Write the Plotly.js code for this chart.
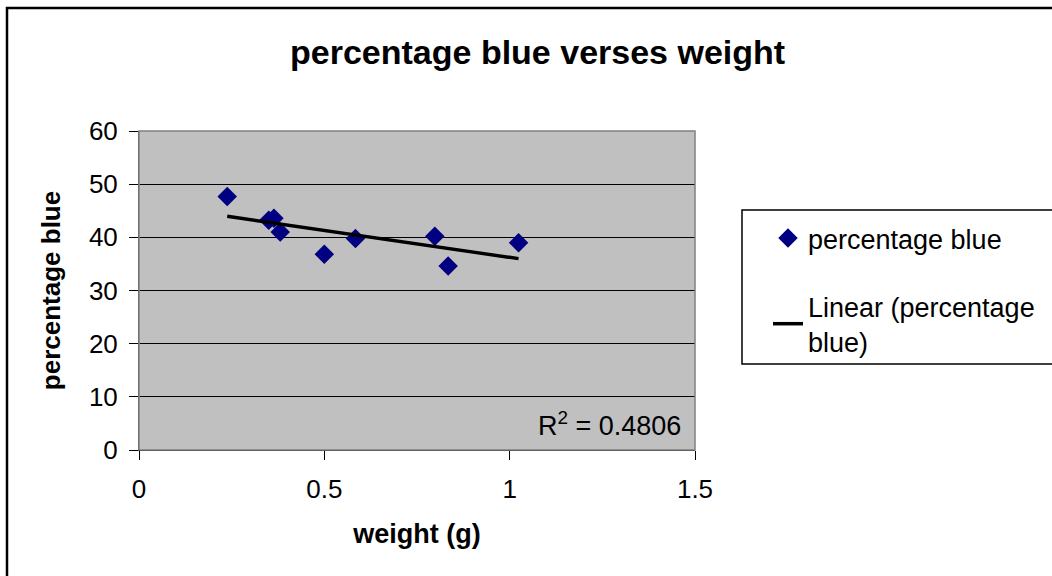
<!DOCTYPE html>
<html>
<head>
<meta charset="utf-8">
<script src="https://cdn.plot.ly/plotly-3.0.1.min.js"></script>
<style>
html,body{margin:0;padding:0;background:#fff;}
#chart{width:1052px;height:576px;}
</style>
</head>
<body>
<div id="chart"></div>
<script>
// ---- data ----
const weight = [0.238, 0.350, 0.364, 0.381, 0.500, 0.584, 0.798, 0.834, 1.024];
const percentBlue = [47.7, 43.2, 43.6, 41.0, 36.8, 39.8, 40.2, 34.6, 39.0];
const seriesName = "percentage blue";
const trendName = "Linear (percentage<br>blue)";
const rSquaredText = "R<sup>2</sup> = 0.4806";
const chartTitle = "percentage blue verses weight";
const xTitle = "weight (g)";
const yTitle = "percentage blue";
const xTicks = [0, 0.5, 1, 1.5];
const xTickLabels = ["0", "0.5", "1", "1.5"];
const yTicks = [0, 10, 20, 30, 40, 50, 60];

// least-squares linear trendline over the data range
const n = weight.length;
const mx = weight.reduce((a, b) => a + b, 0) / n;
const my = percentBlue.reduce((a, b) => a + b, 0) / n;
let sxy = 0, sxx = 0;
for (let i = 0; i < n; i++) { sxy += (weight[i] - mx) * (percentBlue[i] - my); sxx += (weight[i] - mx) ** 2; }
const slope = sxy / sxx, icept = my - slope * mx;
const xmin = Math.min(...weight), xmax = Math.max(...weight);
const trendX = [xmin, xmax];
const trendY = trendX.map(x => icept + slope * x);

const FONT = '"Liberation Sans", Arial, sans-serif';

const traces = [
  {
    x: weight, y: percentBlue, type: 'scatter', mode: 'markers', name: seriesName,
    legendgroup: 'a',
    marker: {symbol: 'diamond', size: 15, color: '#000080', line: {width: 0}}
  },
  {
    x: trendX, y: trendY, type: 'scatter', mode: 'lines', name: trendName,
    legendgroup: 'b',
    line: {color: '#000000', width: 3.5}
  }
];

const L = 139, R = 695, T = 131, B = 450, W = 1052, H = 576;
const px2x = p => (p - L) / (R - L);
const px2y = p => (B - p) / (B - T);

const layout = {
  width: W, height: H,
  paper_bgcolor: '#ffffff',
  plot_bgcolor: '#c0c0c0',
  margin: {l: L, r: W - R, t: T, b: H - B, pad: 0},
  font: {family: FONT, color: '#000', size: 26},
  title: {
    text: '<b>' + chartTitle + '</b>',
    font: {family: FONT, size: 34, color: '#000'},
    x: 0.511, xanchor: 'center', xref: 'container',
    y: 1 - 52 / H, yanchor: 'middle', yref: 'container'
  },
  xaxis: {
    range: [0, 1.5], tickvals: xTicks, ticktext: xTickLabels,
    showgrid: false, zeroline: false,
    showline: true, linecolor: '#000', linewidth: 1,
    ticks: 'outside', ticklen: 9, tickcolor: '#000', tickwidth: 1,
    tickfont: {family: FONT, size: 26, color: '#000'},
    ticklabelstandoff: 7,
    title: {text: '<b>' + xTitle + '</b>', font: {family: FONT, size: 27, color: '#000'}, standoff: 20}
  },
  yaxis: {
    range: [0, 60], tickvals: yTicks,
    showgrid: true, gridcolor: '#000', gridwidth: 1,
    zeroline: false,
    showline: true, linecolor: '#444', linewidth: 1,
    ticks: 'outside', ticklen: 9, tickcolor: '#000', tickwidth: 1,
    tickfont: {family: FONT, size: 26, color: '#000'},
    ticklabelstandoff: 6,
    title: {text: '<b>' + yTitle + '</b>', font: {family: FONT, size: 26, color: '#000'}, standoff: 20}
  },
  showlegend: true,
  legend: {
    x: px2x(768), xanchor: 'left', xref: 'paper',
    y: px2y(214), yanchor: 'top', yref: 'paper',
    bgcolor: 'rgba(0,0,0,0)', borderwidth: 0,
    font: {family: FONT, size: 27, color: '#000'},
    traceorder: 'grouped', tracegroupgap: 30,
    itemwidth: 30
  },
  annotations: [
    {
      text: rSquaredText, xref: 'paper', yref: 'paper',
      x: px2x(683), xanchor: 'right', y: px2y(424), yanchor: 'middle',
      showarrow: false, font: {family: FONT, size: 27, color: '#000'}
    }
  ],
  shapes: [
    // plot area border
    {type: 'rect', xref: 'paper', yref: 'paper', x0: 0, x1: 1, y0: 0, y1: 1,
     line: {color: '#808080', width: 1.5}, layer: 'above'},
    // legend frame (extends past the right edge like the reference)
    {type: 'rect', xref: 'paper', yref: 'paper', x0: px2x(742), x1: px2x(1100), y0: px2y(364), y1: px2y(210),
     line: {color: '#000', width: 1.5}, layer: 'above'},
    // outer chart border (top and left visible)
    {type: 'rect', xref: 'paper', yref: 'paper', x0: px2x(7), x1: px2x(1110), y0: px2y(640), y1: px2y(8),
     line: {color: '#000', width: 2.5}, layer: 'above'}
  ]
};

Plotly.newPlot('chart', traces, layout, {displayModeBar: false, staticPlot: true});
</script>
</body>
</html>
